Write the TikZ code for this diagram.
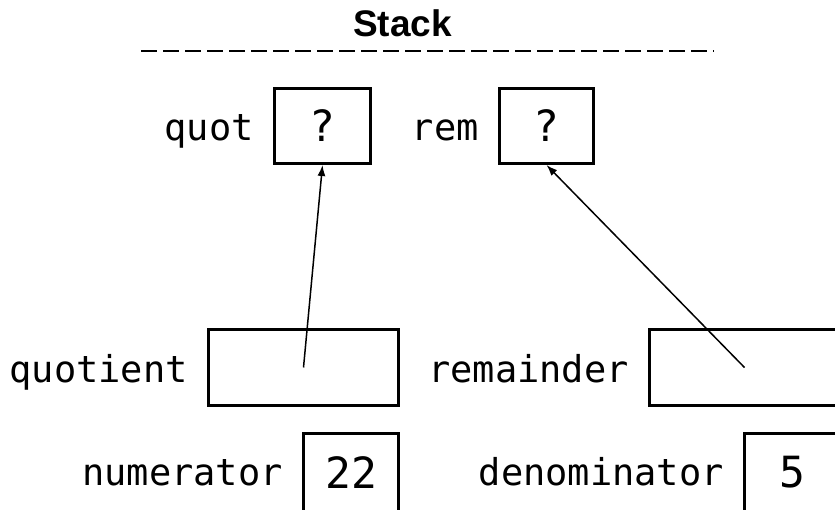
\documentclass[tikz,border=0pt]{standalone}
\usepackage{fontspec}
\setmainfont{Liberation Sans}
\newfontfamily\monofnt{DejaVu Sans Mono}
\usetikzlibrary{arrows.meta}
\tikzset{
  cell/.style={draw, line width=3pt, inner sep=0pt, font=\monofnt\fontsize{43}{46}\selectfont},
  lbl/.style={inner sep=0pt, anchor=base east, font=\monofnt\fontsize{37}{40}\selectfont},
  ptr/.style={line width=1.5pt, -{Latex[length=11pt,width=8pt]}},
  divider/.style={line width=2pt, dash pattern=on 16pt off 6pt}
}
\begin{document}
\begin{tikzpicture}[x=1pt,y=-1pt]
\useasboundingbox (0,0) rectangle (835,510);
\clip (0,0) rectangle (835,510);
\node[font=\bfseries\fontsize{37}{40}\selectfont, anchor=base, inner sep=0pt] (title) at (402.5,36.5) {Stack};
\coordinate (dl) at (141,51);
\coordinate (dr) at (714,51);
\draw[divider] (dl) -- (dr);
% boxes
\node[cell, minimum width=96pt, minimum height=75pt] (quotbox) at (322.5,126) {?};
\node[cell, minimum width=94pt, minimum height=75pt] (rembox) at (546.5,126) {?};
\node[cell, minimum width=190pt, minimum height=76pt] (quotientbox) at (303.5,367.5) {};
\node[cell, minimum width=190pt, minimum height=76pt] (remainderbox) at (744.5,367.5) {};
\node[cell, minimum width=95pt, minimum height=78pt] (numbox) at (351,472.5) {22};
\node[cell, minimum width=95pt, minimum height=78pt] (denbox) at (792,472.5) {5};
% labels
\node[lbl] (quotlbl) at ([xshift=-19pt,yshift=-15pt]quotbox.west) {quot};
\node[lbl] (remlbl) at ([xshift=-19pt,yshift=-15pt]rembox.west) {rem};
\node[lbl] (quotientlbl) at ([xshift=-19pt,yshift=-14.5pt]quotientbox.west) {quotient};
\node[lbl] (remainderlbl) at ([xshift=-19pt,yshift=-14.5pt]remainderbox.west) {remainder};
\node[lbl] (numlbl) at ([xshift=-19pt,yshift=-12.5pt]numbox.west) {numerator};
\node[lbl] (denlbl) at ([xshift=-19pt,yshift=-12.5pt]denbox.west) {denominator};
% pointers
\draw[ptr] (quotientbox.center) -- (quotbox.south);
\draw[ptr] (remainderbox.center) -- (rembox.south);
\end{tikzpicture}
\end{document}
